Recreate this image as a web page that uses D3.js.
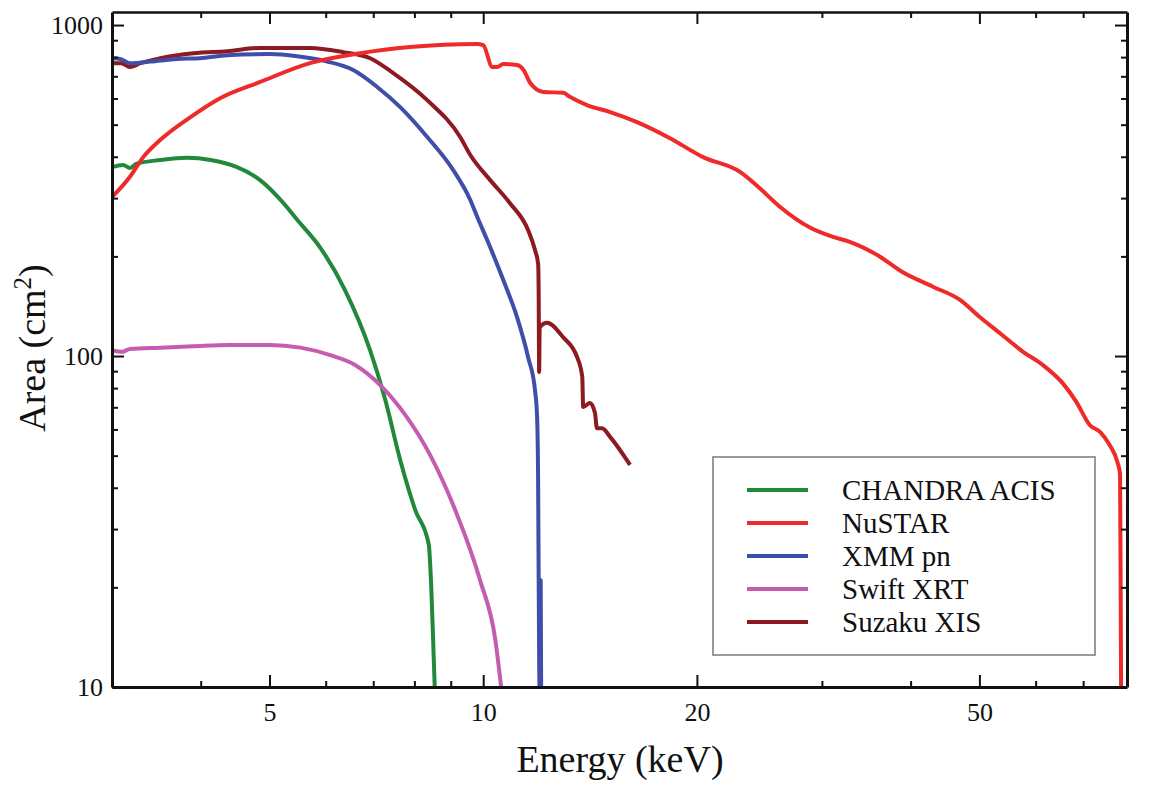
<!DOCTYPE html>
<html>
<head>
<meta charset="utf-8">
<script src="https://cdn.jsdelivr.net/npm/d3@7"></script>
<style>
  body { margin: 0; background: #fff; }
  text { font-family: "Liberation Serif", "Times New Roman", serif; fill: #111; }
</style>
</head>
<body>
<svg id="chart" width="1150" height="792"></svg>
<script>
// instruments, in legend order
const instruments = ['CHANDRA ACIS', 'NuSTAR', 'XMM pn', 'Swift XRT', 'Suzaku XIS'];
const colors = ['#22883a', '#ee2a2a', '#3f4ea8', '#c45db2', '#8c1a20'];

// energy (keV) / effective area (cm^2)
const chandraEnergy = [3.0, 3.11, 3.18, 3.25, 3.51, 3.83, 4.13, 4.50, 4.85, 5.23, 5.47, 5.90, 6.39, 6.93, 7.28, 7.64, 8.02, 8.38, 8.45, 8.52, 8.56];
const chandraArea   = [372, 378, 370, 381, 391, 397, 391, 372, 340, 290, 258, 212, 158, 104, 73.6, 48.5, 34.3, 27, 20, 12, 9];

const nustarEnergy = [3.0, 3.18, 3.32, 3.51, 3.87, 4.26, 4.85, 5.70, 6.71, 7.89, 9.8, 10.0, 10.3, 10.46, 10.67, 11.16, 11.4, 11.65, 12.15, 12.96, 13.26, 14.0, 15.1, 16.47, 18.3, 20.4, 23.0, 24.5, 26.2, 28.9, 31.1, 32.9, 35.9, 39.0, 43.0, 46.9, 50.1, 53.5, 57.6, 61.4, 65.5, 68.5, 71.5, 74.0, 76.3, 78.3, 78.9, 79.1, 79.2];
const nustarArea   = [302, 348, 399, 450, 527, 601, 673, 767, 822, 858, 877, 870, 747, 747, 762, 757, 731, 668, 628, 624, 606, 573, 546, 509, 456, 399, 360, 322, 282, 244, 229, 221, 202, 179, 162, 148, 131, 117, 103, 94, 82.8, 72.6, 61.9, 58.9, 53.8, 47.5, 44, 15, 8];

const xmmEnergy = [3.0, 3.08, 3.18, 3.40, 3.71, 3.99, 4.36, 5.01, 5.47, 6.03, 6.56, 7.09, 7.64, 8.34, 9.07, 9.59, 9.81, 10.13, 10.67, 11.16, 11.57, 11.83, 11.91, 11.95, 11.99, 12.02, 12.05, 12.07, 12.09];
const xmmArea   = [794, 790, 767, 776, 790, 794, 811, 817, 805, 776, 731, 650, 565, 459, 365, 296, 263, 224, 170, 131, 99, 78.8, 65.5, 42.2, 12, 9, 21, 9, 8];

const swiftEnergy = [3.0, 3.1, 3.18, 3.51, 3.9, 4.39, 5.0, 5.53, 6.09, 6.60, 7.16, 7.77, 8.42, 9.13, 9.90, 10.4, 10.6];
const swiftArea   = [104, 103, 105, 106, 107, 108, 108, 106, 100.6, 94, 81.7, 66.3, 50.2, 34.3, 21, 13.9, 10];

const suzakuEnergy = [3.0, 3.09, 3.18, 3.29, 3.51, 3.91, 4.36, 4.85, 5.70, 6.35, 6.93, 7.47, 8.34, 9.28, 9.59, 10.23, 10.9, 11.57, 11.83, 11.95, 11.97, 11.99, 12.01, 12.3, 12.96, 13.56, 13.79, 13.83, 14.14, 14.37, 14.46, 14.7, 15.1, 16.1];
const suzakuArea   = [767, 767, 747, 767, 794, 822, 834, 853, 853, 828, 794, 716, 593, 459, 405, 340, 290, 240, 209, 190, 160, 89.5, 122, 126, 114, 99.3, 86.5, 70.2, 72.1, 67.3, 60.5, 60.5, 56.9, 46.9];

const xMajorTicks = [5, 10, 20, 50];
const xMinorTicks = [4, 6, 7, 8, 9, 30, 40, 60, 70];
const yMajorTicks = [10, 100, 1000];
const yMinorTicks = [20, 30, 40, 50, 60, 70, 80, 90, 200, 300, 400, 500, 600, 700, 800, 900];

const seriesEnergy = [chandraEnergy, nustarEnergy, xmmEnergy, swiftEnergy, suzakuEnergy];
const seriesArea = [chandraArea, nustarArea, xmmArea, swiftArea, suzakuArea];
const drawOrder = [0, 3, 4, 2, 1];

const plotLeft = 112, plotRight = 1127, plotTop = 12, plotBottom = 687;

const svg = d3.select('#chart');
const x = d3.scaleLog().domain([3, 80.7]).range([plotLeft, plotRight]);
const y = d3.scaleLog().domain([10, 1095]).range([plotBottom, plotTop]);

svg.append('clipPath').attr('id', 'plot-clip')
  .append('rect')
  .attr('x', plotLeft).attr('y', plotTop)
  .attr('width', plotRight - plotLeft).attr('height', plotBottom - plotTop);

// curves
const line = d3.line()
  .x(d => x(d[0]))
  .y(d => y(d[1]))
  .curve(d3.curveMonotoneX);
const curves = svg.append('g').attr('clip-path', 'url(#plot-clip)');
drawOrder.forEach(i => {
  let points = seriesEnergy[i].map((e, k) => [e, seriesArea[i][k]]);
  curves.append('path')
    .datum(points)
    .attr('d', line)
    .attr('fill', 'none')
    .attr('stroke', colors[i])
    .attr('stroke-width', 4)
    .attr('stroke-linejoin', 'round');
});

// axes, ticks pointing inward on all four sides
function addAxis(axis, transform, width, keepDomain) {
  let g = svg.append('g').attr('transform', transform).call(axis);
  g.select('.domain').attr('stroke', '#111').attr('stroke-width', width);
  g.selectAll('.tick line').attr('stroke', '#111').attr('stroke-width', 2);
  g.selectAll('.tick text')
    .attr('font-family', '"Liberation Serif", "Times New Roman", serif')
    .attr('font-size', 26)
    .attr('fill', '#111');
  if (!keepDomain) g.select('.domain').remove();
  return g;
}

addAxis(d3.axisBottom(x).tickValues(xMajorTicks).tickFormat(d3.format('d'))
  .tickSizeInner(-12).tickSizeOuter(0).tickPadding(16), `translate(0,${plotBottom})`, 3, true);
addAxis(d3.axisBottom(x).tickValues(xMinorTicks).tickFormat('')
  .tickSizeInner(-6).tickSizeOuter(0), `translate(0,${plotBottom})`, 3, false);
addAxis(d3.axisTop(x).tickValues(xMajorTicks).tickFormat('')
  .tickSizeInner(-12).tickSizeOuter(0), `translate(0,${plotTop})`, 2.5, true);
addAxis(d3.axisTop(x).tickValues(xMinorTicks).tickFormat('')
  .tickSizeInner(-6).tickSizeOuter(0), `translate(0,${plotTop})`, 2.5, false);

addAxis(d3.axisLeft(y).tickValues(yMajorTicks).tickFormat(d3.format('d'))
  .tickSizeInner(-12).tickSizeOuter(0).tickPadding(9), `translate(${plotLeft},0)`, 3, true);
addAxis(d3.axisLeft(y).tickValues(yMinorTicks).tickFormat('')
  .tickSizeInner(-6).tickSizeOuter(0), `translate(${plotLeft},0)`, 3, false);
addAxis(d3.axisRight(y).tickValues(yMajorTicks).tickFormat('')
  .tickSizeInner(-12).tickSizeOuter(0), `translate(${plotRight},0)`, 3, true);
addAxis(d3.axisRight(y).tickValues(yMinorTicks).tickFormat('')
  .tickSizeInner(-6).tickSizeOuter(0), `translate(${plotRight},0)`, 3, false);

// axis titles
svg.append('text')
  .attr('x', 620).attr('y', 772)
  .attr('text-anchor', 'middle')
  .attr('font-size', 38)
  .text('Energy (keV)');

let yTitle = svg.append('text')
  .attr('transform', 'translate(45,348) rotate(-90)')
  .attr('text-anchor', 'middle')
  .attr('font-size', 38);
yTitle.append('tspan').text('Area (cm');
yTitle.append('tspan').attr('font-size', 25).attr('dy', -14).text('2');
yTitle.append('tspan').attr('dy', 14).text(')');

// legend
const legend = svg.append('g');
legend.append('rect')
  .attr('x', 713).attr('y', 457)
  .attr('width', 382).attr('height', 198)
  .attr('fill', '#fff')
  .attr('stroke', '#7a7a7a')
  .attr('stroke-width', 1.5);

instruments.forEach((name, i) => {
  let rowY = 490 + i * 33;
  legend.append('line')
    .attr('x1', 747).attr('x2', 808)
    .attr('y1', rowY).attr('y2', rowY)
    .attr('stroke', colors[i])
    .attr('stroke-width', 4);
  legend.append('text')
    .attr('x', 842).attr('y', rowY)
    .attr('dy', '0.35em')
    .attr('font-size', 29)
    .text(name);
});
</script>
</body>
</html>
